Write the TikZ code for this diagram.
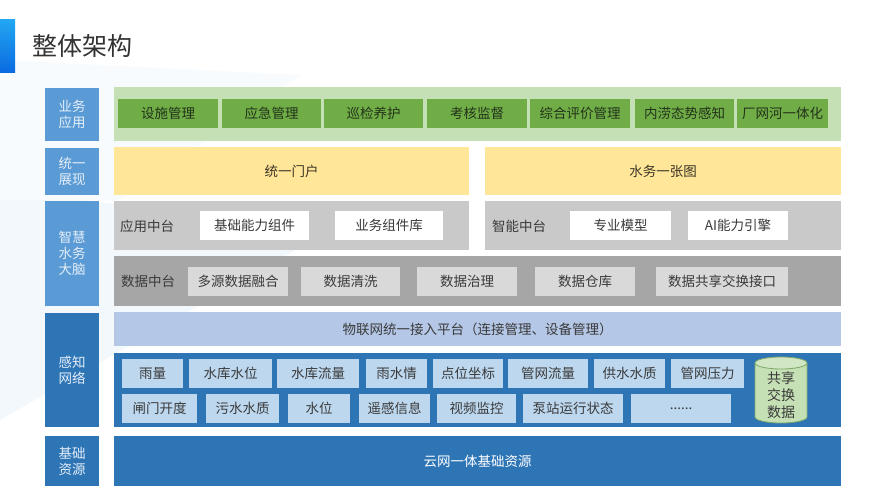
\documentclass[tikz,border=0pt]{standalone}
\usepackage{fontspec}
\setmainfont{Noto Sans CJK SC}
\usetikzlibrary{shapes.geometric}
\definecolor{labA}{HTML}{5B9BD5}
\definecolor{labB}{HTML}{2E75B6}
\definecolor{labtxt}{HTML}{E4EEF8}
\definecolor{gbg}{HTML}{C5E0B4}
\definecolor{gbtn}{HTML}{70AD47}
\definecolor{gtxt}{HTML}{22331A}
\definecolor{ylw}{HTML}{FFE699}
\definecolor{ytxt}{HTML}{3D3526}
\definecolor{greyA}{HTML}{C9C9C9}
\definecolor{greyB}{HTML}{A6A6A6}
\definecolor{greyC}{HTML}{D9D9D9}
\definecolor{dtxt}{HTML}{3A3A3A}
\definecolor{iot}{HTML}{B4C7E7}
\definecolor{sbox}{HTML}{BDD7EE}
\definecolor{cylf}{HTML}{C5E0B4}
\definecolor{cyld}{HTML}{7FA86A}
\definecolor{deco}{HTML}{F3F8FD}
\definecolor{tbarA}{HTML}{22A6F2}
\definecolor{tbarB}{HTML}{0A6AE0}
\newcommand{\bx}[7]{\node[#1,anchor=north west,minimum width={(#4-#2)*1pt},minimum height={(#5-#3)*1pt}] (#6) at (#2,#3) {#7};}
\tikzset{
  base/.style={inner sep=0pt,outer sep=0pt,font=\fontsize{13.5}{16}\selectfont,align=center},
  labelA/.style={base,fill=labA,text=labtxt},
  labelB/.style={base,fill=labB,text=labtxt},
  greenbg/.style={base,fill=gbg},
  greenbtn/.style={base,fill=gbtn,text=gtxt},
  yellowbox/.style={base,fill=ylw,text=ytxt},
  greyapp/.style={base,fill=greyA},
  greydata/.style={base,fill=greyB},
  whitebox/.style={base,fill=white,text=dtxt},
  lgreybox/.style={base,fill=greyC,text=dtxt},
  iotbox/.style={base,fill=iot,text=dtxt},
  sensebg/.style={base,fill=labB},
  sensebox/.style={base,fill=sbox,text=dtxt},
  basebar/.style={base,fill=labB,text=white},
  lefttext/.style={base,anchor=west,text=dtxt}
}
\begin{document}
\begin{tikzpicture}[x=1pt,y=-1pt]
\useasboundingbox (0,0) rectangle (890,500);
\fill[white] (0,0) rectangle (890,500);
% faint decoration
\fill[deco] (0,190) -- (330,230) -- (0,420) -- cycle;
\fill[deco!60] (0,60) -- (300,75) -- (120,200) -- (0,200) -- cycle;
% title
\shade[top color=tbarA, bottom color=tbarB] (0,20) rectangle (15,73);
\node[anchor=west,inner sep=0pt,font=\fontsize{25}{28}\selectfont,text=black!80] (title) at (32,46) {整体架构};
% left labels
\bx{labelA}{45}{88}{99}{141}{l1}{业务\\应用}
\bx{labelA}{45}{148}{99}{195}{l2}{统一\\展现}
\bx{labelA}{45}{201}{99}{306}{l3}{智慧\\水务\\大脑}
\bx{labelB}{45}{313}{99}{427}{l4}{感知\\网络}
\bx{labelB}{45}{436}{99}{486}{l5}{基础\\资源}
% business apps
\bx{greenbg}{114}{87}{841}{141}{appbg}{}
\bx{greenbtn}{118}{99}{218}{128}{a1}{设施管理}
\bx{greenbtn}{222}{99}{321}{128}{a2}{应急管理}
\bx{greenbtn}{324}{99}{423}{128}{a3}{巡检养护}
\bx{greenbtn}{427}{99}{527}{128}{a4}{考核监督}
\bx{greenbtn}{530}{99}{630}{128}{a5}{综合评价管理}
\bx{greenbtn}{635}{99}{734}{128}{a6}{内涝态势感知}
\bx{greenbtn}{737}{99}{828}{128}{a7}{厂网河一体化}
% presentation
\bx{yellowbox}{114}{147}{469}{195}{p1}{统一门户}
\bx{yellowbox}{485}{147}{841}{195}{p2}{水务一张图}
% application middle platform
\bx{greyapp}{114}{201}{469}{250}{appmid}{}
\node[lefttext] (appmidt) at (120,226) {应用中台};
\bx{whitebox}{200}{211}{309}{240}{w1}{基础能力组件}
\bx{whitebox}{335}{211}{443}{240}{w2}{业务组件库}
\bx{greyapp}{485}{201}{841}{250}{aimid}{}
\node[lefttext] (aimidt) at (492,226) {智能中台};
\bx{whitebox}{570}{211}{671}{240}{w3}{专业模型}
\bx{whitebox}{688}{211}{788}{240}{w4}{AI能力引擎}
% data middle platform
\bx{greydata}{114}{256}{841}{306}{datamid}{}
\node[lefttext] (datamidt) at (121,281) {数据中台};
\bx{lgreybox}{188}{267}{288}{296}{d1}{多源数据融合}
\bx{lgreybox}{301}{267}{400}{296}{d2}{数据清洗}
\bx{lgreybox}{417}{267}{517}{296}{d3}{数据治理}
\bx{lgreybox}{535}{267}{635}{296}{d4}{数据仓库}
\bx{lgreybox}{656}{267}{788}{296}{d5}{数据共享交换接口}
% iot
\bx{iotbox}{114}{312}{841}{346}{iotp}{物联网统一接入平台（连接管理、设备管理）}
% sensing
\bx{sensebg}{114}{353}{841}{427}{sensebgn}{}
\bx{sensebox}{122}{359}{183}{388}{s1}{雨量}
\bx{sensebox}{189}{359}{272}{388}{s2}{水库水位}
\bx{sensebox}{277}{359}{359}{388}{s3}{水库流量}
\bx{sensebox}{366}{359}{427}{388}{s4}{雨水情}
\bx{sensebox}{433}{359}{503}{388}{s5}{点位坐标}
\bx{sensebox}{508}{359}{588}{388}{s6}{管网流量}
\bx{sensebox}{594}{359}{665}{388}{s7}{供水水质}
\bx{sensebox}{671}{359}{744}{388}{s8}{管网压力}
\bx{sensebox}{122}{394}{197}{423}{t1}{闸门开度}
\bx{sensebox}{206}{394}{279}{423}{t2}{污水水质}
\bx{sensebox}{288}{394}{350}{423}{t3}{水位}
\bx{sensebox}{359}{394}{430}{423}{t4}{遥感信息}
\bx{sensebox}{437}{394}{516}{423}{t5}{视频监控}
\bx{sensebox}{523}{394}{623}{423}{t6}{泵站运行状态}
\bx{sensebox}{631}{394}{731}{423}{t7}{......}
% cylinder
\fill[cylf] (755,363) -- (755,417) arc[start angle=180,end angle=0,x radius=26,y radius=6] -- (807,363) arc[start angle=0,end angle=-180,x radius=26,y radius=6] -- cycle;
\draw[cyld,line width=0.8pt] (755,363) -- (755,417) arc[start angle=180,end angle=0,x radius=26,y radius=6] -- (807,363);
\draw[cyld,line width=0.8pt,fill=cylf!80!white] (781,363) ellipse[x radius=26,y radius=6];
\node[base,text=dtxt,font=\fontsize{14}{17}\selectfont] (share) at (781,395) {共享\\交换\\数据};
% base resources
\bx{basebar}{114}{436}{841}{486}{cloud}{云网一体基础资源}
\end{tikzpicture}
\end{document}
